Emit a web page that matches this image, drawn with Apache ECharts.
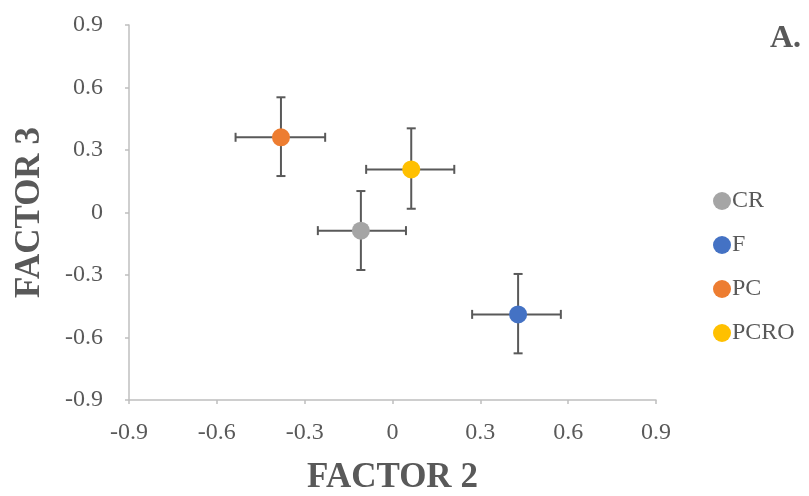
<!DOCTYPE html>
<html>
<head>
<meta charset="utf-8">
<script src="https://cdn.jsdelivr.net/npm/echarts@6/dist/echarts.min.js"></script>
<style>
  html, body { margin: 0; padding: 0; background: #fff; }
  #chart { width: 809px; height: 496px; }
</style>
</head>
<body>
<div id="chart"></div>
<script>
  // groups and their means
  const groups = ['CR', 'F', 'PC', 'PCRO'];
  const colors = ['#A5A5A5', '#4472C4', '#ED7D31', '#FFC000'];
  const factor2 = [-0.108, 0.429, -0.381, 0.064];
  const factor3 = [-0.087, -0.489, 0.361, 0.207];
  // error bar ends
  const f2Low = [-0.255, 0.272, -0.536, -0.09];
  const f2High = [0.046, 0.575, -0.23, 0.211];
  const f3Low = [-0.276, -0.676, 0.175, 0.018];
  const f3High = [0.103, -0.295, 0.553, 0.404];
  const tickMin = -0.9, tickMax = 0.9, tickStep = 0.3;

  const chart = echarts.init(document.getElementById('chart'));
  const serif = '"Liberation Serif", "DejaVu Serif", serif';
  const textColor = '#595959';
  const errColor = '#595959';

  const errData = groups.map((g, i) => [factor2[i], factor3[i], f2Low[i], f2High[i], f3Low[i], f3High[i]]);

  const errSeries = {
    type: 'custom',
    name: 'err',
    z: 1,
    silent: true,
    data: errData,
    renderItem: (params, api) => {
      const c = api.coord([api.value(0), api.value(1)]);
      const l = api.coord([api.value(2), api.value(1)]);
      const r = api.coord([api.value(3), api.value(1)]);
      const b = api.coord([api.value(0), api.value(4)]);
      const t = api.coord([api.value(0), api.value(5)]);
      const cap = 4.5;
      const style = { stroke: errColor, lineWidth: 2 };
      const seg = (x1, y1, x2, y2) => ({ type: 'line', shape: { x1, y1, x2, y2 }, style });
      return {
        type: 'group',
        children: [
          seg(l[0], c[1], r[0], c[1]),
          seg(l[0], c[1] - cap, l[0], c[1] + cap),
          seg(r[0], c[1] - cap, r[0], c[1] + cap),
          seg(c[0], b[1], c[0], t[1]),
          seg(c[0] - cap, b[1], c[0] + cap, b[1]),
          seg(c[0] - cap, t[1], c[0] + cap, t[1])
        ]
      };
    }
  };

  const pointSeries = groups.map((g, i) => ({
    type: 'scatter',
    name: g,
    z: 3,
    symbolSize: 18,
    itemStyle: { color: colors[i], opacity: 1 },
    data: [[factor2[i], factor3[i]]]
  }));

  const axisCommon = {
    type: 'value',
    min: tickMin,
    max: tickMax,
    interval: tickStep,
    nameLocation: 'middle',
    nameTextStyle: { fontFamily: serif, fontWeight: 'bold', fontSize: 35, color: textColor },
    axisLine: { show: true, onZero: false, lineStyle: { color: '#BFBFBF', width: 1.5 } },
    axisTick: { show: true, length: 4, lineStyle: { color: '#BFBFBF', width: 1.5 } },
    axisLabel: { fontFamily: serif, fontSize: 24, color: textColor },
    splitLine: { show: false }
  };

  const option = {
    backgroundColor: '#fff',
    animation: false,
    title: {
      text: 'A.',
      right: 3,
      top: 18,
      textStyle: { fontFamily: serif, fontWeight: 'bold', fontSize: 32, color: textColor }
    },
    grid: { left: 129, right: 153, top: 25, bottom: 96, outerBoundsMode: 'none' },
    legend: {
      orient: 'vertical',
      left: 713,
      top: 189,
      padding: 0,
      itemWidth: 18,
      itemHeight: 18,
      itemGap: 20,
      icon: 'circle',
      data: groups,
      textStyle: { fontFamily: serif, fontSize: 24, color: textColor, padding: [0, 0, 0, -4] }
    },
    xAxis: Object.assign({}, axisCommon, {
      name: 'FACTOR 2',
      nameGap: 60,
      axisLabel: Object.assign({}, axisCommon.axisLabel, { margin: 21 })
    }),
    yAxis: Object.assign({}, axisCommon, {
      name: 'FACTOR 3',
      nameGap: 82,
      axisLabel: Object.assign({}, axisCommon.axisLabel, { margin: 26 })
    }),
    series: [errSeries].concat(pointSeries)
  };

  chart.setOption(option);
</script>
</body>
</html>
